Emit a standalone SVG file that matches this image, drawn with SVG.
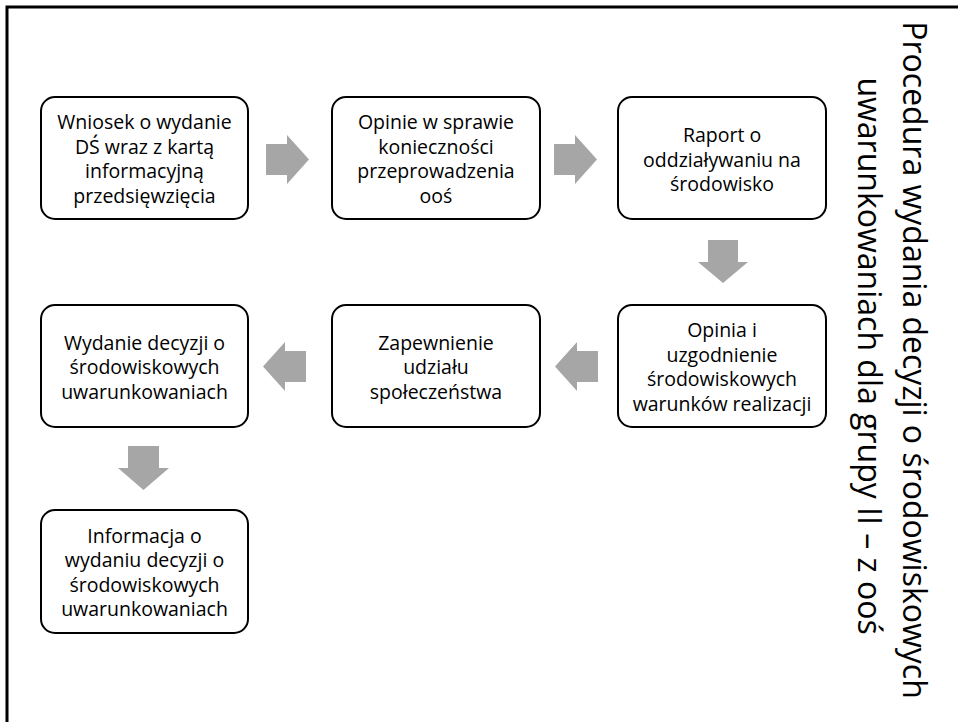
<svg xmlns="http://www.w3.org/2000/svg" width="958" height="722" viewBox="0 0 958 722">
<style>
.box{fill:#fff;stroke:#000;stroke-width:2}
.t{font-family:"Open Sans","Noto Sans",sans-serif;font-size:19.5px;fill:#000;text-anchor:middle}
.arr{fill:#a6a6a6}
.title{font-family:"Open Sans","Noto Sans",sans-serif;font-size:32px;fill:#000;text-anchor:middle}
</style>
<rect width="958" height="722" fill="#fff"/>
<path d="M7,722 V7 H958" fill="none" stroke="#000" stroke-width="3"/>
<g id="connectors">
<polygon class="arr" points="266,144 287,144 287,135 309,159.5 287,184 287,175 266,175"/>
<polygon class="arr" points="554,144 575,144 575,135 597,159.5 575,184 575,175 554,175"/>
<polygon class="arr" points="708,240 738,240 738,262 748,262 723,283 698,262 708,262"/>
<polygon class="arr" points="598,351 577,351 577,342 555,366.5 577,391 577,382 598,382"/>
<polygon class="arr" points="306,351 285,351 285,342 263,366.5 285,391 285,382 306,382"/>
<polygon class="arr" points="128,446 159,446 159,468 169,468 143.5,490 118,468 128,468"/>
</g>
<g id="n1"><rect class="box" x="41" y="97" width="207" height="122" rx="14"/>
<text class="t"><tspan x="144.5" y="129">Wniosek o wydanie</tspan><tspan x="144.5" y="153.7">DŚ wraz z kartą</tspan><tspan x="144.5" y="178.3">informacyjną</tspan><tspan x="144.5" y="203">przedsięwzięcia</tspan></text></g>
<g id="n2"><rect class="box" x="332" y="97" width="208" height="122" rx="14"/>
<text class="t"><tspan x="436" y="129">Opinie w sprawie</tspan><tspan x="436" y="153.7">konieczności</tspan><tspan x="436" y="178.3">przeprowadzenia</tspan><tspan x="436" y="203">ooś</tspan></text></g>
<g id="n3"><rect class="box" x="618" y="97" width="208" height="122" rx="14"/>
<text class="t"><tspan x="722" y="142">Raport o</tspan><tspan x="722" y="166.5">oddziaływaniu na</tspan><tspan x="722" y="191">środowisko</tspan></text></g>
<g id="n4"><rect class="box" x="618" y="305" width="208" height="122" rx="14"/>
<text class="t"><tspan x="722" y="337">Opinia i</tspan><tspan x="722" y="361.7">uzgodnienie</tspan><tspan x="722" y="386.3">środowiskowych</tspan><tspan x="722" y="411">warunków realizacji</tspan></text></g>
<g id="n5"><rect class="box" x="332" y="305" width="208" height="122" rx="14"/>
<text class="t"><tspan x="436" y="349.5">Zapewnienie</tspan><tspan x="436" y="374">udziału</tspan><tspan x="436" y="398.5">społeczeństwa</tspan></text></g>
<g id="n6"><rect class="box" x="41" y="305" width="207" height="122" rx="14"/>
<text class="t"><tspan x="144.5" y="349.5">Wydanie decyzji o</tspan><tspan x="144.5" y="374">środowiskowych</tspan><tspan x="144.5" y="398.5">uwarunkowaniach</tspan></text></g>
<g id="n7"><rect class="box" x="41" y="510" width="207" height="123" rx="14"/>
<text class="t"><tspan x="144.5" y="542.5">Informacja o</tspan><tspan x="144.5" y="567">wydaniu decyzji o</tspan><tspan x="144.5" y="591.7">środowiskowych</tspan><tspan x="144.5" y="616.4">uwarunkowaniach</tspan></text></g>
<g id="title"><text class="title" transform="translate(903,360) rotate(90)"><tspan x="0" y="0">Procedura wydania decyzji o środowiskowych</tspan><tspan x="-4" y="45">uwarunkowaniach dla grupy II – z ooś</tspan></text></g>
</svg>
